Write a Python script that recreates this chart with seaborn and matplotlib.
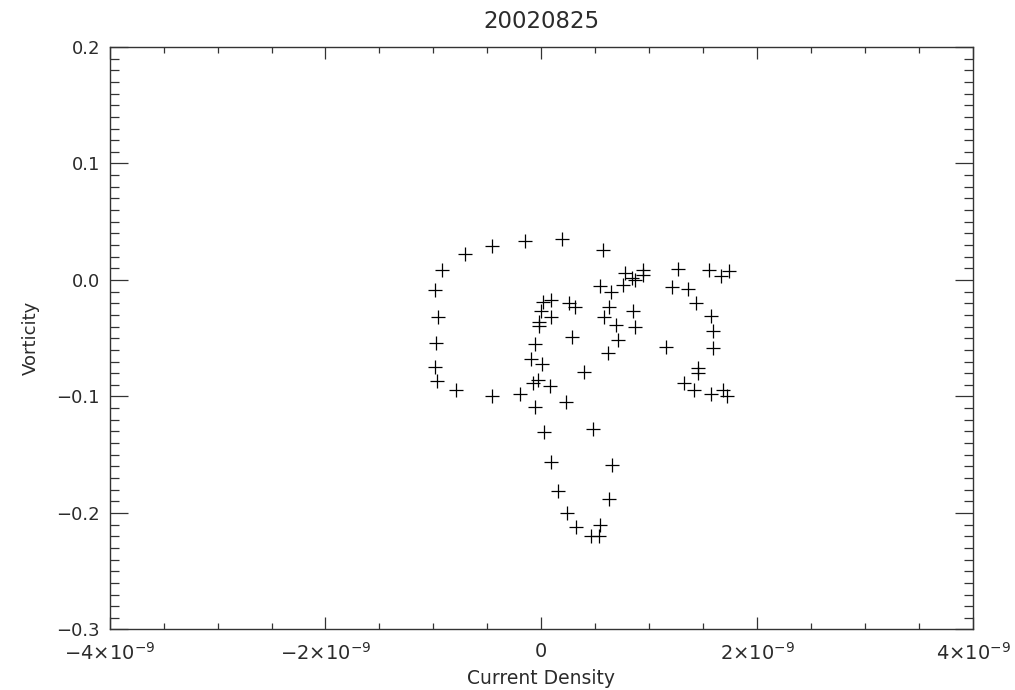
import numpy as np
import pandas as pd
import matplotlib
matplotlib.use('Agg')
import matplotlib.pyplot as plt
from matplotlib.ticker import MultipleLocator
import seaborn as sns

# data (current density in units of 1e-9)
current_density = [
    -0.708, -0.461, -0.153, 0.187, 0.572, -0.924, -0.986, -0.956, -0.977, -0.986,
    -0.970, -0.794, -0.461, -0.199, -0.060, 0.233, 0.396, 0.079, -0.030, -0.079,
    -0.093, 0.002, -0.057, -0.020, -0.020, -0.007, 0.011, 0.094, 0.094, 0.259,
    0.310, 0.280, 0.542, 0.641, 0.752, 0.773, 0.844, 0.866, 0.943, 0.943,
    0.630, 0.579, 0.690, 0.850, 0.866, 0.711, 0.619, 1.159, 1.267, 1.213,
    1.363, 1.431, 1.554, 1.662, 1.739, 1.569, 1.594, 1.594, 1.452, 1.452,
    1.321, 1.414, 1.569, 1.681, 1.722, 0.026, 0.480, 0.094, 0.656, 0.156,
    0.628, 0.239, 0.319, 0.548, 0.456, 0.535,
]
vorticity = [
    0.0223, 0.0292, 0.0337, 0.0349, 0.0260, 0.0086, -0.0088, -0.0315, -0.0543, -0.0744,
    -0.0864, -0.0942, -0.0993, -0.0981, -0.1088, -0.1045, -0.0787, -0.0906, -0.0861, -0.0880,
    -0.0678, -0.0721, -0.0551, -0.0361, -0.0395, -0.0262, -0.0193, -0.0176, -0.0315, -0.0200,
    -0.0229, -0.0487, -0.0050, -0.0107, -0.0046, 0.0060, 0.0021, 0.0000, 0.0090, 0.0043,
    -0.0232, -0.0320, -0.0388, -0.0266, -0.0401, -0.0515, -0.0629, -0.0573, 0.0092, -0.0058,
    -0.0079, -0.0195, 0.0086, 0.0031, 0.0080, -0.0306, -0.0435, -0.0586, -0.0753, -0.0801,
    -0.0887, -0.0944, -0.0979, -0.0944, -0.0993, -0.1307, -0.1279, -0.1565, -0.1591, -0.1811,
    -0.1882, -0.2003, -0.2118, -0.2106, -0.2200, -0.2200,
]

x_ticks = [-4e-9, -2e-9, 0, 2e-9, 4e-9]
x_tick_labels = [r'$-4{\times}10^{-9}$', r'$-2{\times}10^{-9}$', '0',
                 r'$2{\times}10^{-9}$', r'$4{\times}10^{-9}$']
y_ticks = [0.2, 0.1, 0.0, -0.1, -0.2, -0.3]
y_tick_labels = ['0.2', '0.1', '0.0', '\u22120.1', '\u22120.2', '\u22120.3']

df = pd.DataFrame({'Current Density': np.array(current_density) * 1e-9,
                   'Vorticity': vorticity})

sns.set_style('ticks')
plt.rcParams['font.family'] = ['DejaVu Sans']
plt.rcParams['mathtext.fontset'] = 'dejavusans'

text_color = '#2b2b2b'
fig = plt.figure(figsize=(10.15, 6.9), dpi=100)
ax = fig.add_axes([0.108, 0.0877, 0.8507, 0.8442])

sns.scatterplot(data=df, x='Current Density', y='Vorticity', marker='+',
                color='black', s=110, linewidth=0.9, ax=ax, legend=False)

ax.set_xlim(-4e-9, 4e-9)
ax.set_ylim(-0.3, 0.2)
ax.set_xticks(x_ticks)
ax.set_xticklabels(x_tick_labels)
ax.set_yticks(y_ticks)
ax.set_yticklabels(y_tick_labels)
ax.xaxis.set_minor_locator(MultipleLocator(0.5e-9))
ax.yaxis.set_minor_locator(MultipleLocator(0.01))

ax.tick_params(axis='both', which='both', direction='in', top=True, right=True,
               colors='#333333', labelcolor=text_color, labelsize=13, width=0.9)
ax.tick_params(axis='x', which='major', length=8.6, pad=9, labelsize=14)
ax.tick_params(axis='x', which='minor', length=4.3)
ax.tick_params(axis='y', which='major', length=13, pad=7)
ax.tick_params(axis='y', which='minor', length=6.5)

for sp in ax.spines.values():
    sp.set_color('#333333')
    sp.set_linewidth(1.0)

ax.set_xlabel('Current Density', fontsize=13.5, color=text_color, labelpad=4)
ax.set_ylabel('Vorticity', fontsize=13, color=text_color, labelpad=12)
ax.set_title('20020825', fontsize=16.5, color=text_color, pad=14)

fig.savefig('out.png', dpi=100, facecolor='white')
